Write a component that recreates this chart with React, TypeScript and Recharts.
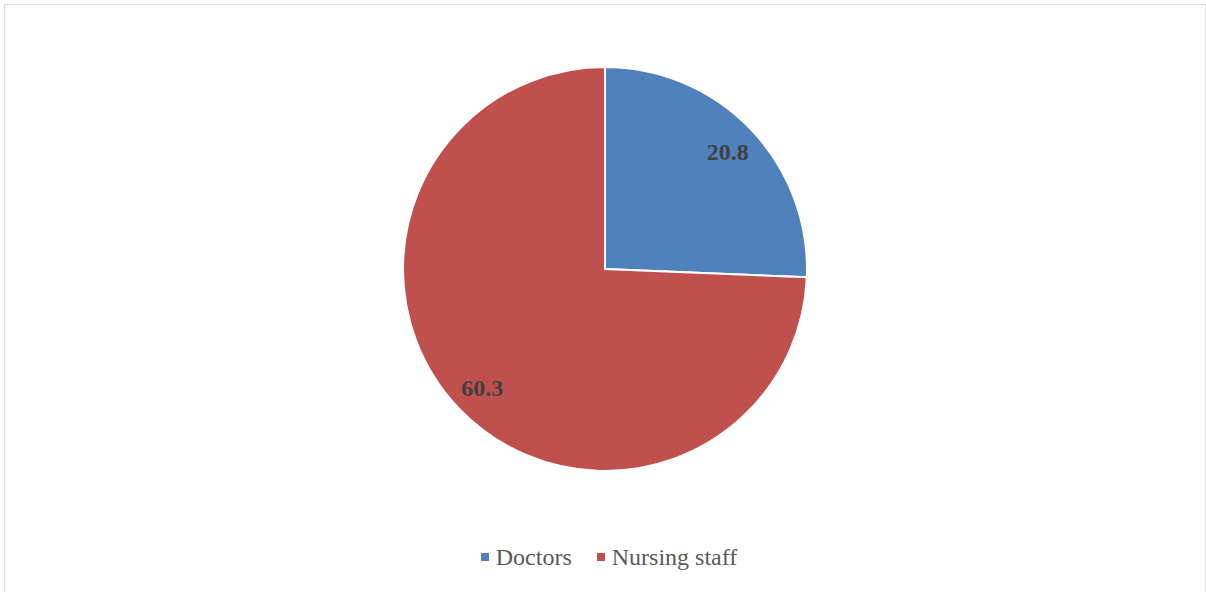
import React from "react";
import { PieChart, Pie, Cell } from "recharts";

const categories = ["Doctors", "Nursing staff"];
const values = [20.8, 60.3];
const colors = ["#4F81BD", "#C0504D"];

const data = categories.map((name, i) => ({ name, value: values[i] }));

const RAD = Math.PI / 180;
const SERIF = "'Liberation Serif', 'Times New Roman', serif";

function renderLabel(props: any) {
  const { cx, cy, midAngle, value } = props;
  const r = 170;
  const x = cx + r * Math.cos(-midAngle * RAD);
  const y = cy + r * Math.sin(-midAngle * RAD) + 1;
  return (
    <text
      x={x}
      y={y}
      fill="#404040"
      textAnchor="middle"
      dominantBaseline="central"
      fontFamily={SERIF}
      fontWeight="bold"
      fontSize={24}
    >
      {value.toFixed(1)}
    </text>
  );
}

export default function App() {
  return (
    <div style={{ position: "absolute", left: 0, top: 0, width: 1206, height: 592, background: "#fff" }}>
      <div
        style={{
          position: "absolute",
          left: 4,
          top: 4,
          width: 1200,
          height: 600,
          border: "1px solid #d9d9d9",
        }}
      />
      <PieChart
        width={1206}
        height={592}
        margin={{ top: 0, right: 0, bottom: 0, left: 0 }}
        style={{ position: "absolute", left: 0, top: 0 }}
      >
        <Pie
          data={data}
          dataKey="value"
          nameKey="name"
          cx={605}
          cy={269}
          outerRadius={202}
          startAngle={90}
          endAngle={-270}
          stroke="#ffffff"
          strokeWidth={2}
          label={renderLabel}
          labelLine={false}
          isAnimationActive={false}
        >
          {data.map((d, i) => (
            <Cell key={d.name} fill={colors[i]} />
          ))}
        </Pie>
      </PieChart>
      <div
        style={{
          position: "absolute",
          left: 0,
          top: 540,
          width: 1206,
          height: 34,
          display: "flex",
          justifyContent: "center",
          alignItems: "center",
          fontFamily: SERIF,
          fontSize: 24,
          color: "#595959",
          paddingLeft: 12,
          boxSizing: "border-box",
        }}
      >
        {categories.map((c, i) => (
          <div key={c} style={{ display: "flex", alignItems: "center", marginRight: i === 0 ? 25 : 0 }}>
            <span style={{ display: "inline-block", width: 8, height: 8, background: colors[i], marginRight: 7 }} />
            <span>{c}</span>
          </div>
        ))}
      </div>
    </div>
  );
}
